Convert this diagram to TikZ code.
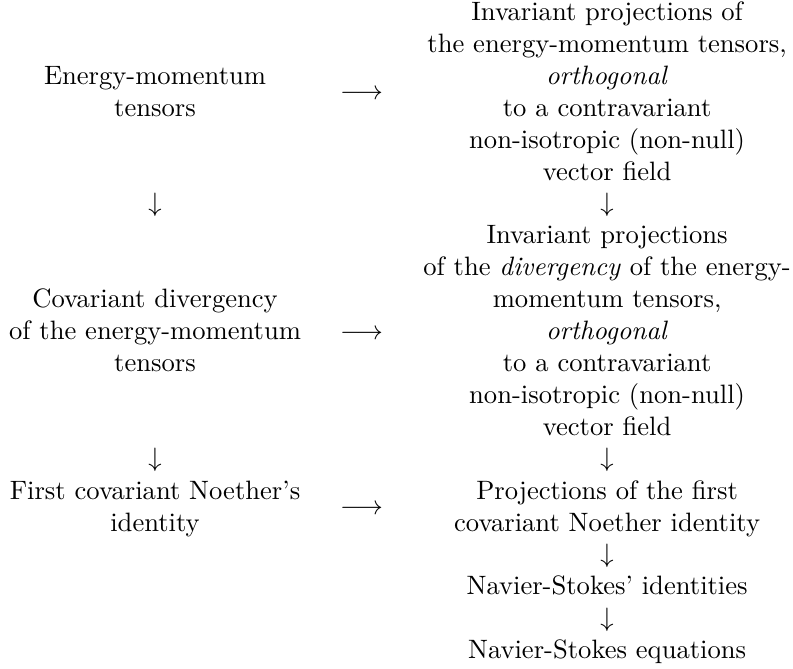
\documentclass[tikz,border=0pt]{standalone}
\usepackage{amsmath}
\usetikzlibrary{positioning}

\tikzset{
  blk/.style={align=center, inner sep=0pt, anchor=north},
  sym/.style={inner sep=0pt, anchor=base},
}

\begin{document}
\begin{tikzpicture}[x=1pt,y=1pt]
            \useasboundingbox (0,0) rectangle (298.2,-251.2);
            % left column
            \node[blk] (emt) at (58.3,-23.1) {\strut Energy-momentum\\ tensors};
            \node[sym] (dl1) at (58.3,-79.5) {$\downarrow$};
            \node[blk] (covdiv) at (58.3,-107.1) {\strut Covariant divergency\\ of the energy-momentum\\ tensors};
            \node[sym] (dl2) at (58.3,-175.5) {$\downarrow$};
            \node[blk] (noether) at (58.3,-179.1) {\strut First covariant Noether's\\ identity};
            % horizontal arrows
            \node[sym] (h1) at (136,-37.5) {$\longrightarrow$};
            \node[sym] (h2) at (136,-127.5) {$\longrightarrow$};
            \node[sym] (h3) at (136,-193.5) {$\longrightarrow$};
            % right column
            \node[blk] (projemt) at (228.3,0.9) {\strut Invariant projections of\\ the energy-momentum tensors,\\
              \textit{orthogonal}\\ to a contravariant\\ non-isotropic (non-null)\\ vector field};
            \node[sym] (dr1) at (228.3,-79.5) {$\downarrow$};
            \node[blk] (projdiv) at (228.3,-83.1) {\strut Invariant projections\\ of the \textit{divergency} of the energy-\\
              momentum tensors,\\ \textit{orthogonal}\\ to a contravariant\\ non-isotropic (non-null)\\ vector field};
            \node[sym] (dr2) at (228.3,-175.5) {$\downarrow$};
            \node[blk] (projnoe) at (228.3,-179.1) {\strut Projections of the first\\ covariant Noether identity};
            \node[sym] (dr3) at (228.3,-211.5) {$\downarrow$};
            \node[blk] (nsid) at (228.3,-215.1) {\strut Navier-Stokes' identities};
            \node[sym] (dr4) at (228.3,-235.5) {$\downarrow$};
            \node[blk] (nseq) at (228.3,-239.1) {\strut Navier-Stokes equations};
        \end{tikzpicture}
\end{document}
